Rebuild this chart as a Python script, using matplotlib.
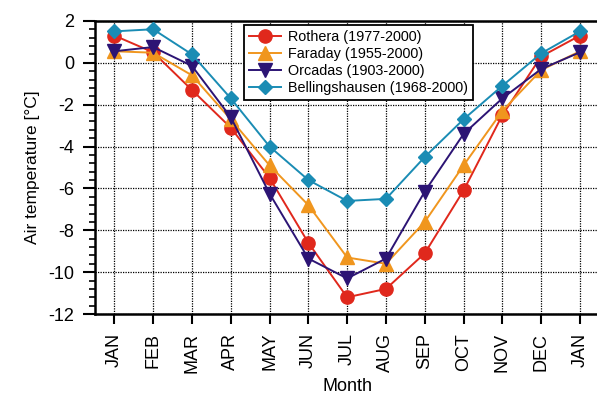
import numpy as np
import matplotlib
matplotlib.use('Agg')
import matplotlib.pyplot as plt
from matplotlib.ticker import MultipleLocator

plt.rcParams['font.family'] = ['Liberation Sans', 'DejaVu Sans']
plt.rcParams['axes.unicode_minus'] = False

months = ['JAN', 'FEB', 'MAR', 'APR', 'MAY', 'JUN', 'JUL', 'AUG', 'SEP', 'OCT', 'NOV', 'DEC', 'JAN']

rothera = [1.3, 0.5, -1.3, -3.1, -5.5, -8.6, -11.2, -10.8, -9.1, -6.1, -2.5, 0.3, 1.3]
faraday = [0.55, 0.48, -0.6, -2.7, -4.9, -6.8, -9.3, -9.6, -7.6, -4.9, -2.3, -0.35, 0.55]
orcadas = [0.55, 0.75, -0.15, -2.6, -6.25, -9.35, -10.3, -9.35, -6.15, -3.4, -1.7, -0.3, 0.5]
bellingshausen = [1.5, 1.6, 0.4, -1.7, -4.0, -5.6, -6.6, -6.5, -4.5, -2.7, -1.1, 0.45, 1.5]

series = [
    ('Rothera (1977-2000)', rothera, '#e0281c', 'o', 9.5),
    ('Faraday (1955-2000)', faraday, '#f0961e', '^', 9.5),
    ('Orcadas (1903-2000)', orcadas, '#2c1474', 'v', 9.5),
    ('Bellingshausen (1968-2000)', bellingshausen, '#1a8cb4', 'D', 7.5),
]

fig = plt.figure(figsize=(5.97, 3.94), dpi=100)
ax = fig.add_axes([0.159, 0.203, 0.845, 0.744])

x = np.arange(len(months))
for label, vals, color, marker, ms in series:
    ax.plot(x, vals, color=color, marker=marker, markersize=ms, linewidth=1.4,
            label=label, zorder=3)

ax.set_xlim(-0.5, 12.5)
ax.set_ylim(-12, 2)
ax.set_xticks(x)
ax.set_xticklabels(months, rotation=90, fontsize=13)
ax.yaxis.set_major_locator(MultipleLocator(2))
ax.yaxis.set_minor_locator(MultipleLocator(0.4))
ax.tick_params(axis='y', which='major', direction='out', length=9, width=1.5,
               labelsize=13, pad=6)
ax.tick_params(axis='y', which='minor', direction='out', length=4.5, width=1.2)
ax.tick_params(axis='x', which='major', direction='out', length=7.5, width=1.5,
               pad=6)

ax.grid(True, which='major', color='black', linestyle=(0, (1, 1)), linewidth=0.9)
for side in ['left', 'bottom', 'top']:
    ax.spines[side].set_linewidth(1.8)
ax.spines['right'].set_visible(False)

ax.set_ylabel('Air temperature [°C]', fontsize=12.5, labelpad=6)
ax.set_xlabel('Month', fontsize=13, labelpad=4)

leg = ax.legend(loc='upper left', bbox_to_anchor=(0.295, 0.986), borderaxespad=0,
                fontsize=10.4, fancybox=False, framealpha=1, edgecolor='black',
                handlelength=2.2, handletextpad=0.5, labelspacing=0.2,
                borderpad=0.35)
leg.get_frame().set_linewidth(1.3)

fig.savefig('out.png', dpi=100)
